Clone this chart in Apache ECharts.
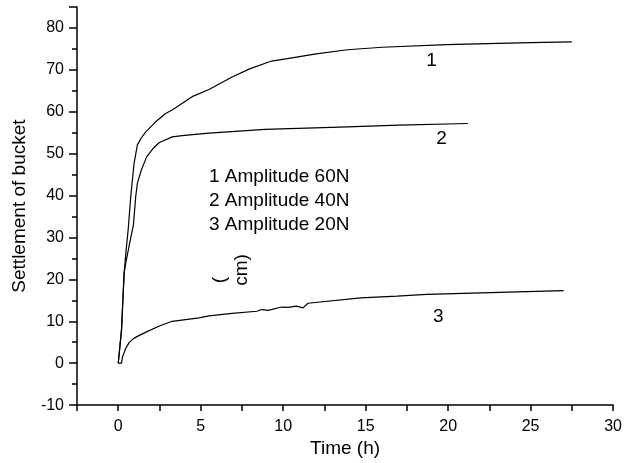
<!DOCTYPE html>
<html>
<head>
<meta charset="utf-8">
<script src="https://cdn.jsdelivr.net/npm/echarts@6/dist/echarts.min.js"></script>
<style>
  html, body { margin: 0; padding: 0; background: #fff; }
  #main { width: 625px; height: 463px; }
</style>
</head>
<body>
<div id="main"></div>
<script>
// settlement curves, [time (h), settlement]
var curve1 = [[0,0],[0.1,0],[0.2,8],[0.28,15],[0.36,21.6],[0.48,27.1],[0.6,31.8],[0.76,39.8],[0.96,47.7],[1.16,52.1],
  [1.4,53.8],[1.67,55.2],[2.27,57.6],[2.87,59.6],[3.27,60.4],[4.48,63.6],[5.5,65.3],[6.9,68.3],[8,70.3],[9.3,72.1],
  [10.9,73.1],[12,73.8],[13.9,74.8],[16,75.4],[19.9,76.0],[23,76.3],[25,76.5],[27.5,76.7]]
var curve2 = [[0,0],[0.1,0],[0.2,8],[0.28,15],[0.36,21.6],[0.5,24.8],[0.66,28],[0.92,33],[1.06,39.8],[1.16,42.9],
  [1.4,46.1],[1.73,49.3],[2.13,51.3],[2.47,52.6],[3.27,54.0],[3.87,54.3],[5.5,54.9],[8.9,55.8],[13.9,56.4],[17,56.8],[21.2,57.2]]
var curve3 = [[0,0],[0.2,0],[0.26,1.5],[0.45,3.5],[0.66,4.9],[0.9,5.8],[1.16,6.4],[1.77,7.6],[2.57,9.0],[3.27,10.0],
  [4.9,10.8],[5.5,11.3],[6.9,11.9],[8.4,12.4],[8.7,12.8],[9.1,12.6],[9.9,13.4],[10.3,13.3],[10.8,13.6],[11.2,13.2],
  [11.5,14.3],[14.7,15.6],[16.9,16.0],[18.7,16.4],[24.2,17.0],[27,17.3]]
var curveNames = ['1', '2', '3']
// where the curve numbers sit
var curveLabelPos = [[19.0, 72.2], [19.6, 53.6], [19.4, 11.0]]
var noteLines = ['1 Amplitude 60N', '2 Amplitude 40N', '3 Amplitude 20N']

var font = '"Liberation Sans", Arial, sans-serif'
var chart = echarts.init(document.getElementById('main'))

function makeSeries(data, i) {
  return {
    type: 'line',
    data: data,
    showSymbol: false,
    symbol: 'none',
    lineStyle: { color: '#000', width: 1.2 },
    animation: false,
    markPoint: {
      symbol: 'circle',
      symbolSize: 0,
      label: { show: true, position: 'inside', color: '#000', fontSize: 19, fontFamily: font, formatter: curveNames[i] },
      data: [{ coord: curveLabelPos[i] }]
    }
  }
}

var option = {
  backgroundColor: '#ffffff',
  animation: false,
  grid: { left: 77, right: 8, top: 7, bottom: 57 },
  xAxis: {
    type: 'value',
    min: -2.5, max: 30, interval: 2.5,
    name: 'Time (h)', nameLocation: 'middle', nameGap: 31,
    nameTextStyle: { color: '#000', fontSize: 19, fontFamily: font },
    axisLine: { onZero: false, lineStyle: { color: '#000', width: 1.5 } },
    axisTick: { show: true, length: 6, lineStyle: { color: '#000', width: 1.5 } },
    axisLabel: {
      color: '#000', fontSize: 16, fontFamily: font, margin: 13,
      formatter: function (v) { return v % 5 === 0 ? String(v) : '' }
    },
    splitLine: { show: false }
  },
  yAxis: {
    type: 'value',
    min: -10, max: 85, interval: 10,
    name: 'Settlement of bucket', nameLocation: 'middle', nameGap: 48,
    nameTextStyle: { color: '#000', fontSize: 19, fontFamily: font },
    axisLine: { show: true, onZero: false, lineStyle: { color: '#000', width: 1.5 } },
    axisTick: { show: true, length: 8, lineStyle: { color: '#000', width: 1.5 } },
    minorTick: { show: true, splitNumber: 2, length: 5, lineStyle: { color: '#000', width: 1.5 } },
    axisLabel: {
      color: '#000', fontSize: 16, fontFamily: font, margin: 13,
      formatter: function (v) { return v % 10 === 0 ? String(v) : '' }
    },
    splitLine: { show: false }
  },
  series: [curve1, curve2, curve3].map(makeSeries),
  graphic: noteLines.map(function (t, i) {
    return {
      type: 'text', x: 209, y: 177 + i * 24,
      style: { text: t, font: '19px ' + font, fill: '#000', textAlign: 'left', textVerticalAlign: 'middle' }
    }
  }).concat([
    // the broken unit label of the original figure, turned like the axis name
    { type: 'text', x: 220, y: 280, rotation: Math.PI / 2,
      style: { text: '(', font: '19px ' + font, fill: '#000', textAlign: 'center', textVerticalAlign: 'middle' } },
    { type: 'text', x: 242, y: 270, rotation: Math.PI / 2,
      style: { text: 'cm)', font: '19px ' + font, fill: '#000', textAlign: 'center', textVerticalAlign: 'middle' } }
  ])
}

chart.setOption(option)
</script>
</body>
</html>
